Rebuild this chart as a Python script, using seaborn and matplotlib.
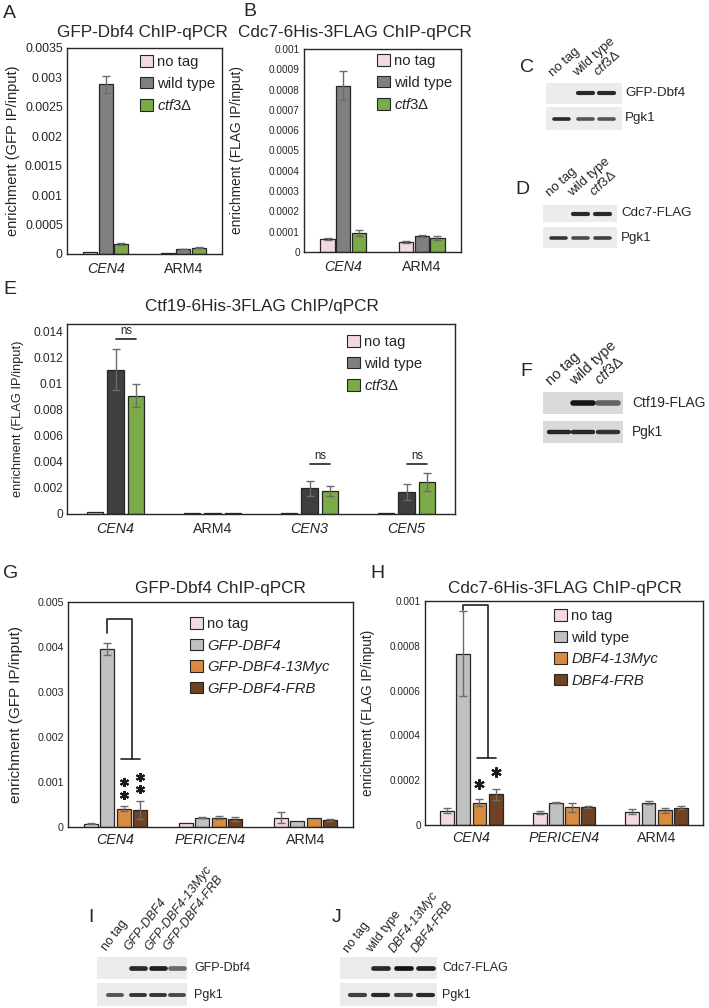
import numpy as np
import pandas as pd
import matplotlib
matplotlib.use("Agg")
import matplotlib.pyplot as plt
from matplotlib.patches import Patch
from matplotlib.ticker import MultipleLocator, FuncFormatter
import seaborn as sns

# ------------------------------------------------------------------
# Data (means and error bar half-widths)
# ------------------------------------------------------------------
# A: GFP-Dbf4 ChIP-qPCR
A_loci = ["CEN4", "ARM4"]
A_strains = ["no tag", "wild type", "ctf3"]
A_mean = [[0.00003, 0.00002], [0.00288, 0.000085], [0.00017, 0.00011]]
A_err = [[0, 0], [0.00015, 0.000008], [0.00001, 0.00001]]

# B: Cdc7-6His-3FLAG ChIP-qPCR
B_loci = ["CEN4", "ARM4"]
B_strains = ["no tag", "wild type", "ctf3"]
B_mean = [[0.000064, 0.000049], [0.00082, 0.00008], [0.000093, 0.000069]]
B_err = [[0.000005, 0.000004], [0.00007, 0.000005], [0.000015, 0.000012]]

# E: Ctf19-6His-3FLAG ChIP/qPCR
E_loci = ["CEN4", "ARM4", "CEN3", "CEN5"]
E_strains = ["no tag", "wild type", "ctf3"]
E_mean = [[0.00016, 0.00005, 0.00005, 0.00005],
          [0.0111, 0.00008, 0.00197, 0.00169],
          [0.00909, 0.00005, 0.00179, 0.00247]]
E_err = [[0, 0, 0, 0],
         [0.0016, 0, 0.0006, 0.0006],
         [0.0009, 0, 0.0004, 0.00068]]
E_ns_loci = ["CEN4", "CEN3", "CEN5"]
E_ns_y = [0.01343, 0.00382, 0.00382]

# G: GFP-Dbf4 ChIP-qPCR (tagged alleles)
G_loci = ["CEN4", "PERICEN4", "ARM4"]
G_strains = ["no tag", "GFP-DBF4", "GFP-DBF4-13Myc", "GFP-DBF4-FRB"]
G_mean = [[0.000074, 0.00009, 0.00021],
          [0.00396, 0.00021, 0.00013],
          [0.00041, 0.00021, 0.0002],
          [0.00037, 0.00018, 0.00015]]
G_err = [[0.00001, 0, 0.00013],
         [0.00013, 0.00002, 0],
         [0.00005, 0.00004, 0],
         [0.0002, 0.00004, 0.00002]]
G_bracket = [0.00431, 0.00462, 0.00151]
G_stars_myc = [0.001, 0.00071]
G_stars_frb = [0.00111, 0.00084]

# H: Cdc7-6His-3FLAG ChIP-qPCR (tagged alleles)
H_loci = ["CEN4", "PERICEN4", "ARM4"]
H_strains = ["no tag", "wild type", "DBF4-13Myc", "DBF4-FRB"]
H_mean = [[0.000064, 0.000055, 0.00006],
          [0.000765, 0.0001, 0.0001],
          [0.0001, 0.00008, 0.000065],
          [0.000137, 0.00008, 0.000078]]
H_err = [[0.00001, 0.000008, 0.000012],
         [0.00019, 0.000003, 0.000006],
         [0.000015, 0.00002, 0.000013],
         [0.000025, 0.000005, 0.000007]]
H_bracket = [0.00096, 0.00098, 0.0003]
H_stars_myc = [0.000183]
H_stars_frb = [0.000237]

# western blots: relative band intensity per lane
C_lanes = ["no tag", "wild type", r"$\mathit{ctf3}\Delta$"]
C_gfp = [0.0, 0.9, 0.9]
C_pgk = [0.9, 0.7, 0.7]
D_cdc7 = [0.0, 0.9, 0.9]
D_pgk = [0.85, 0.75, 0.8]
F_ctf19 = [0.0, 1.0, 0.6]
F_pgk = [0.9, 0.9, 0.85]
I_lanes = ["no tag", "GFP-DBF4", "GFP-DBF4-13Myc", "GFP-DBF4-FRB"]
I_gfp = [0.0, 0.9, 0.95, 0.6]
I_pgk = [0.7, 0.85, 0.85, 0.75]
J_lanes = ["no tag", "wild type", "DBF4-13Myc", "DBF4-FRB"]
J_cdc7 = [0.0, 0.9, 1.0, 0.95]
J_pgk = [0.8, 0.9, 0.8, 0.9]

# ------------------------------------------------------------------
# Style
# ------------------------------------------------------------------
PINK = "#f3d9e1"
GRAY = "#808080"
DARK = "#3f3f3f"
LIGHT = "#c0c0c0"
GREEN = "#7aab48"
ORANGE = "#d98c3f"
BROWN = "#6e4222"
EDGE = "#262626"
ERRC = "#6b6b6b"
CTF3 = r"$\mathit{ctf3}\Delta$"
ITALIC_LOCI = {"CEN4", "CEN3", "CEN5", "PERICEN4"}

sns.set_theme(style="white")
plt.rcParams["font.family"] = ["Liberation Sans", "DejaVu Sans"]
plt.rcParams["mathtext.fontset"] = "custom"
plt.rcParams["mathtext.rm"] = "Liberation Sans"
plt.rcParams["mathtext.it"] = "Liberation Sans:italic"
plt.rcParams["mathtext.bf"] = "Liberation Sans:bold"

W, H = 709, 1008
fig = plt.figure(figsize=(W / 100, H / 100), dpi=100)


def frac(x0, y0, x1, y1):
    return [x0 / W, 1 - y1 / H, (x1 - x0) / W, (y1 - y0) / H]


def ftext(x, y, s, **kw):
    fig.text(x / W, 1 - y / H, s, **kw)


def long_df(loci, strains, means, errs):
    rows = []
    for s, mrow, erow in zip(strains, means, errs):
        for l, m, e in zip(loci, mrow, erow):
            rows.append({"locus": l, "strain": s, "value": m, "err": e})
    return pd.DataFrame(rows)


def bar_panel(box, loci, strains, means, errs, colors, ymax, step, width, gap,
              tick_fs, ylabel, ylabel_fs, ylabel_cx, xpad):
    ax = fig.add_axes(frac(*box))
    df = long_df(loci, strains, means, errs)
    sns.barplot(data=df, x="locus", y="value", hue="strain", order=loci,
                hue_order=strains, palette=colors, width=width, gap=gap,
                errorbar=None, edgecolor=EDGE, linewidth=0.9, saturation=1,
                legend=False, ax=ax)
    centers = {}
    for s, cont, erow in zip(strains, ax.containers, errs):
        xs = [p.get_x() + p.get_width() / 2 for p in cont.patches]
        hs = [p.get_height() for p in cont.patches]
        keep = [i for i, e in enumerate(erow) if e > 0]
        if keep:
            ax.errorbar([xs[i] for i in keep], [hs[i] for i in keep],
                        yerr=[erow[i] for i in keep], fmt="none", ecolor=ERRC,
                        elinewidth=1.0, capsize=3.2, capthick=1.0, zorder=3)
        centers[s] = xs
    ax.set_xlim(-0.5, len(loci) - 0.5)
    ax.set_ylim(0, ymax)
    ax.yaxis.set_major_locator(MultipleLocator(step))
    ax.yaxis.set_major_formatter(FuncFormatter(
        lambda v, p: "0" if abs(v) < 1e-12 else f"{v:.6f}".rstrip("0")))
    ax.tick_params(axis="both", length=0)
    ax.tick_params(axis="y", labelsize=tick_fs, pad=3)
    ax.tick_params(axis="x", labelsize=10.3, pad=xpad)
    for t in ax.get_xticklabels():
        if t.get_text() in ITALIC_LOCI:
            t.set_style("italic")
    ax.set_xlabel("")
    ax.set_ylabel(ylabel, fontsize=ylabel_fs)
    # label anchor sits on the right edge of the rotated text
    x0, x1 = box[0], box[2]
    anchor = ylabel_cx + ylabel_fs * 0.72
    ax.yaxis.set_label_coords((anchor - x0) / (x1 - x0), 0.5)
    for sp in ax.spines.values():
        sp.set_color(EDGE)
        sp.set_linewidth(1.0)
        sp.set_visible(True)
    return ax, centers


def legend(ax, labels, colors, x, y, italic):
    handles = [Patch(facecolor=c, edgecolor=EDGE, linewidth=0.8) for c in colors]
    leg = ax.legend(handles, labels, loc="upper left",
                    bbox_to_anchor=(x / W, 1 - y / H), bbox_transform=fig.transFigure,
                    frameon=False, fontsize=10.7, handlelength=0.85,
                    handleheight=0.85, handletextpad=0.3, labelspacing=0.5,
                    borderpad=0, borderaxespad=0)
    for t, it in zip(leg.get_texts(), italic):
        if it:
            t.set_style("italic")


def blot(box, lanes_x, inten, bg, half_w, lw):
    ax = fig.add_axes(frac(*box))
    ax.set_xlim(box[0], box[2])
    ax.set_ylim(0, 1)
    ax.set_facecolor(bg)
    ax.set_xticks([])
    ax.set_yticks([])
    for sp in ax.spines.values():
        sp.set_visible(False)
    for x, v in zip(lanes_x, inten):
        if v > 0:
            ax.plot([x - half_w, x + half_w], [0.5, 0.5], color="#141414",
                    alpha=v, lw=lw, solid_capstyle="round")


def lane_labels(labels, lanes_x, y, rot, fs, italic, dx=-6):
    for lab, x, it in zip(labels, lanes_x, italic):
        ftext(x + dx, y, lab, rotation=rot, rotation_mode="anchor", ha="left",
              va="bottom", fontsize=fs, style="italic" if it else "normal")


def letter(x, y, s):
    ftext(x, y, s, ha="left", va="center", fontsize=14)


# ------------------------------------------------------------------
# A
# ------------------------------------------------------------------
axA, cA = bar_panel((67, 48, 222, 254), A_loci, A_strains, A_mean, A_err,
                    [PINK, GRAY, GREEN], 0.0035, 0.0005, 0.6, 0.1,
                    8.9, "enrichment (GFP IP/input)", 10.5, 12, 6)
legend(axA, ["no tag", "wild type", CTF3], [PINK, GRAY, GREEN], 140, 55,
       [False, False, False])
ftext(142, 32, "GFP-Dbf4 ChIP-qPCR", ha="center", va="center", fontsize=12.3)
letter(3, 13, "A")

# ------------------------------------------------------------------
# B
# ------------------------------------------------------------------
axB, cB = bar_panel((304, 49, 461, 252), B_loci, B_strains, B_mean, B_err,
                    [PINK, GRAY, GREEN], 0.001, 0.0001, 0.6, 0.1,
                    7.2, "enrichment (FLAG IP/input)", 9.9, 237, 6)
legend(axB, ["no tag", "wild type", CTF3], [PINK, GRAY, GREEN], 377, 54,
       [False, False, False])
ftext(355, 32, "Cdc7-6His-3FLAG ChIP-qPCR", ha="center", va="center", fontsize=12.3)
letter(243, 12, "B")

# ------------------------------------------------------------------
# C / D blots
# ------------------------------------------------------------------
C_x = [561, 585, 606]
blot((546, 83, 622, 104), C_x, C_gfp, "#ececec", 7.5, 3.0)
blot((546, 107, 622, 130), C_x, C_pgk, "#ececec", 7.5, 2.6)
lane_labels(C_lanes, C_x, 79, 42, 9.5, [False, False, False])
ftext(625, 93, "GFP-Dbf4", ha="left", va="center", fontsize=9.6)
ftext(625, 118, "Pgk1", ha="left", va="center", fontsize=9.6)
letter(520, 68, "C")

D_x = [558, 580, 602]
blot((543, 205, 617, 222), D_x, D_cdc7, "#ececec", 7.5, 3.0)
blot((543, 227, 617, 248), D_x, D_pgk, "#ececec", 7.5, 2.6)
lane_labels(C_lanes, D_x, 199, 42, 9.5, [False, False, False])
ftext(621, 213, "Cdc7-FLAG", ha="left", va="center", fontsize=9.6)
ftext(621, 238, "Pgk1", ha="left", va="center", fontsize=9.6)
letter(515, 190, "D")

# ------------------------------------------------------------------
# E
# ------------------------------------------------------------------
axE, cE = bar_panel((67, 324, 455, 514), E_loci, E_strains, E_mean, E_err,
                    [PINK, DARK, GREEN], 0.0146, 0.002, 0.64, 0.2,
                    8.6, "enrichment (FLAG IP/input)", 9.3, 17, 6)
legend(axE, ["no tag", "wild type", CTF3], [PINK, GRAY, GREEN], 347, 335,
       [False, False, False])
for locus, yv in zip(E_ns_loci, E_ns_y):
    i = E_loci.index(locus)
    xa, xb = cE["wild type"][i], cE["ctf3"][i]
    axE.plot([xa, xb], [yv, yv], color="#222", lw=1.2)
    axE.text((xa + xb) / 2, yv + 0.0002, "ns", ha="center", va="bottom", fontsize=8.3)
ftext(262, 306, "Ctf19-6His-3FLAG ChIP/qPCR", ha="center", va="center", fontsize=12.3)
letter(3, 289, "E")

# F blot
F_x = [559, 583, 608]
blot((543, 392, 623, 414), F_x, F_ctf19, "#dadada", 10, 4.0)
blot((543, 421, 623, 443), F_x, F_pgk, "#dadada", 10, 3.2)
lane_labels(C_lanes, F_x, 388, 43, 10.5, [False, False, False])
ftext(632, 403, "Ctf19-FLAG", ha="left", va="center", fontsize=9.9)
ftext(632, 432, "Pgk1", ha="left", va="center", fontsize=9.9)
letter(520, 372, "F")

# ------------------------------------------------------------------
# G
# ------------------------------------------------------------------
axG, cG = bar_panel((68, 602, 353, 827), G_loci, G_strains, G_mean, G_err,
                    [PINK, LIGHT, ORANGE, BROWN], 0.005, 0.001, 0.68, 0.13,
                    7.7, "enrichment (GFP IP/input)", 11, 15, 4)
legend(axG, G_strains, [PINK, LIGHT, ORANGE, BROWN], 190, 617,
       [False, True, True, True])
xg = cG["GFP-DBF4"][0]
xm, xf = cG["GFP-DBF4-13Myc"][0], cG["GFP-DBF4-FRB"][0]
xmid = (xm + xf) / 2
axG.plot([xg, xg, xmid, xmid], [G_bracket[0], G_bracket[1], G_bracket[1], G_bracket[2]],
         color="#222", lw=1.2)
axG.plot([xm - 0.03, xf], [G_bracket[2], G_bracket[2]], color="#222", lw=1.2)
axG.plot([xm] * len(G_stars_myc), G_stars_myc, ls="none", marker=(6, 2, 0),
         ms=6.5, mew=1.5, color="k")
axG.plot([xf] * len(G_stars_frb), G_stars_frb, ls="none", marker=(6, 2, 0),
         ms=6.5, mew=1.5, color="k")
ftext(220, 588, "GFP-Dbf4 ChIP-qPCR", ha="center", va="center", fontsize=12.3)
letter(3, 573, "G")

# ------------------------------------------------------------------
# H
# ------------------------------------------------------------------
axH, cH = bar_panel((425, 601, 703, 825), H_loci, H_strains, H_mean, H_err,
                    [PINK, LIGHT, ORANGE, BROWN], 0.001, 0.0002, 0.7, 0.15,
                    7.2, "enrichment (FLAG IP/input)", 9.8, 368, 4)
legend(axH, H_strains, [PINK, LIGHT, ORANGE, BROWN], 554, 609,
       [False, False, True, True])
xw = cH["wild type"][0]
xm, xf = cH["DBF4-13Myc"][0], cH["DBF4-FRB"][0]
xmid = (xm + xf) / 2
axH.plot([xw, xw, xmid, xmid], [H_bracket[0], H_bracket[1], H_bracket[1], H_bracket[2]],
         color="#222", lw=1.2)
axH.plot([xm - 0.03, xf], [H_bracket[2], H_bracket[2]], color="#222", lw=1.2)
axH.plot([xm] * len(H_stars_myc), H_stars_myc, ls="none", marker=(6, 2, 0),
         ms=7.5, mew=1.5, color="k")
axH.plot([xf] * len(H_stars_frb), H_stars_frb, ls="none", marker=(6, 2, 0),
         ms=7.5, mew=1.5, color="k")
ftext(565, 588, "Cdc7-6His-3FLAG ChIP-qPCR", ha="center", va="center", fontsize=12.3)
letter(370, 573, "H")

# ------------------------------------------------------------------
# I / J blots
# ------------------------------------------------------------------
I_x = [115, 138, 158, 177]
blot((97, 957, 187, 979), I_x, I_gfp, "#ebebeb", 7, 3.4)
blot((97, 983, 187, 1006), I_x, I_pgk, "#ebebeb", 7, 2.8)
lane_labels(I_lanes, I_x, 953, 53, 9, [False, True, True, True])
ftext(194, 968, "GFP-Dbf4", ha="left", va="center", fontsize=9)
ftext(194, 995, "Pgk1", ha="left", va="center", fontsize=9)
letter(88, 917, "I")

J_x = [357, 380, 403, 425]
blot((340, 957, 437, 979), J_x, J_cdc7, "#ebebeb", 7.5, 3.4)
blot((340, 983, 437, 1006), J_x, J_pgk, "#ebebeb", 7.5, 3.0)
lane_labels(J_lanes, J_x, 955, 53, 9, [False, False, True, True])
ftext(442, 968, "Cdc7-FLAG", ha="left", va="center", fontsize=9)
ftext(442, 995, "Pgk1", ha="left", va="center", fontsize=9)
letter(332, 917, "J")

fig.savefig("out.png", dpi=100)
